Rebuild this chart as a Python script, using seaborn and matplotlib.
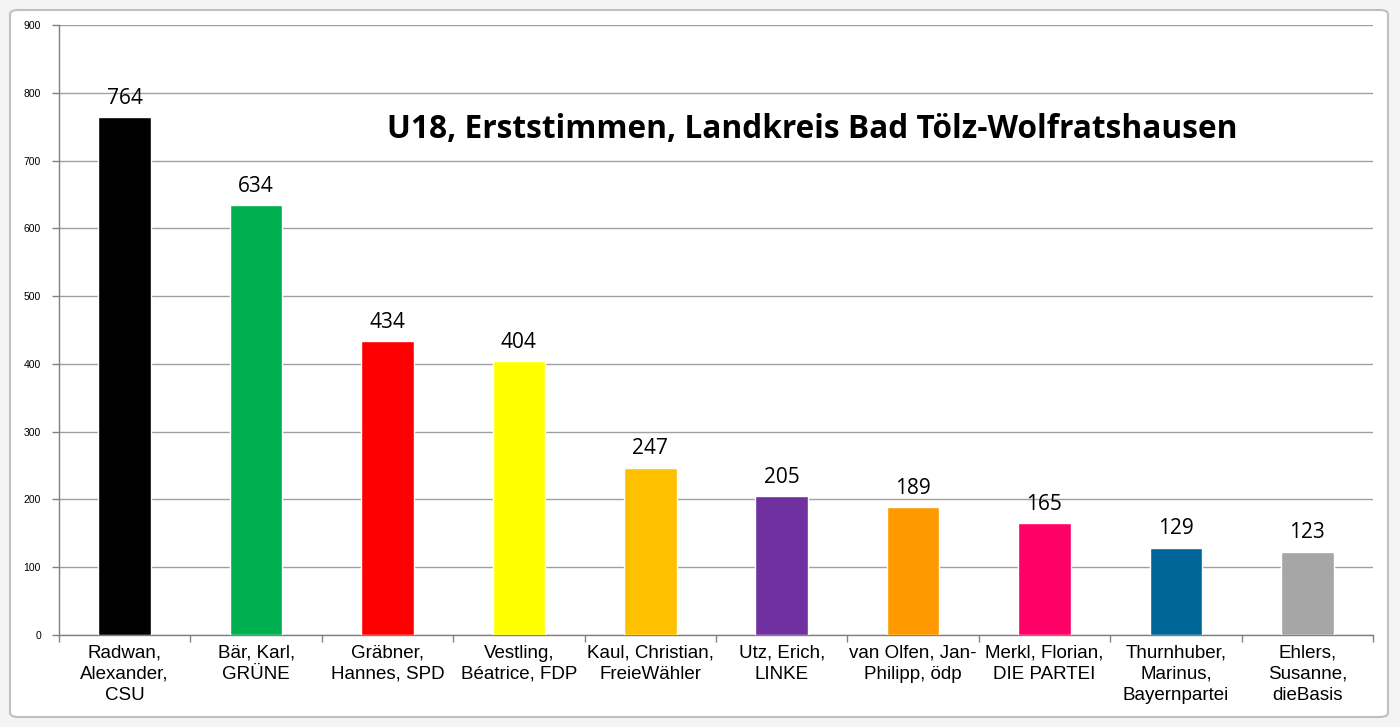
import matplotlib.pyplot as plt
import matplotlib.patches as mpatches
import numpy as np
import pandas as pd
import seaborn as sns

# Kandidaten, Stimmen, Farben
labels = ["Radwan,\nAlexander,\nCSU", "Bär, Karl,\nGRÜNE", "Gräbner,\nHannes, SPD",
          "Vestling,\nBéatrice, FDP", "Kaul, Christian,\nFreieWähler", "Utz, Erich,\nLINKE",
          "van Olfen, Jan-\nPhilipp, ödp", "Merkl, Florian,\nDIE PARTEI",
          "Thurnhuber,\nMarinus,\nBayernpartei", "Ehlers,\nSusanne,\ndieBasis"]
votes = [764, 634, 434, 404, 247, 205, 189, 165, 129, 123]
colors = ["#000000", "#00B050", "#FF0000", "#FFFF00", "#FFC000",
          "#7030A0", "#FF9900", "#FF0066", "#006699", "#A6A6A6"]
yticks = [0, 100, 200, 300, 400, 500, 600, 700, 800, 900]

df = pd.DataFrame({"name": labels, "votes": votes})

sns.set_style("white")
plt.rcParams["text.color"] = "black"
plt.rcParams["xtick.color"] = "#808080"
plt.rcParams["ytick.color"] = "#808080"
plt.rcParams["xtick.labelcolor"] = "black"
plt.rcParams["ytick.labelcolor"] = "black"

fig = plt.figure(figsize=(14, 7.27), dpi=100)
fig.patch.set_facecolor("#F4F4F4")

# chart frame
frame = mpatches.FancyBboxPatch((10 / 1400, 10 / 727), 1378 / 1400, 707 / 727,
                                boxstyle="round,pad=0,rounding_size=0.006",
                                transform=fig.transFigure, facecolor="white",
                                edgecolor="#BFBFBF", linewidth=1.5, zorder=-5)
fig.patches.append(frame)

ax = fig.add_axes([59 / 1400, 1 - 635 / 727, 1314 / 1400, 610 / 727])
ax.set_zorder(2)
ax.set_facecolor("none")

sns.barplot(data=df, x="name", y="votes", hue="name", palette=colors,
            width=0.4, legend=False, ax=ax, zorder=3, saturation=1)

ax.set_ylim(0, 900)
ax.set_xlim(-0.5, len(labels) - 0.5)
ax.set_yticks(yticks)
ax.set_yticklabels([str(t) for t in yticks], fontsize=7.5, family="Liberation Sans")
ax.yaxis.grid(True, color="#A0A0A0", linewidth=1, zorder=0)
ax.set_axisbelow(True)

ax.set_xticks(np.arange(len(labels)))
ax.set_xticklabels(labels, fontsize=13.5, family="Liberation Sans", linespacing=1.3)
ax.tick_params(axis="x", which="major", bottom=True, length=0, pad=7)
ax.set_xticks(np.arange(len(labels) + 1) - 0.5, minor=True)
ax.tick_params(axis="x", which="minor", bottom=True, length=5, width=1,
               color="#808080", direction="out")
ax.tick_params(axis="y", left=True, length=5, width=1, color="#808080",
               direction="out", pad=8)
ax.set_xlabel("")
ax.set_ylabel("")

for s in ["top", "right"]:
    ax.spines[s].set_visible(False)
for s in ["left", "bottom"]:
    ax.spines[s].set_color("#808080")
    ax.spines[s].set_linewidth(1)

for i, v in enumerate(votes):
    ax.text(i, v + 12, str(v), ha="center", va="bottom", fontsize=15,
            family="Open Sans", color="black")

ax.text(0.573, 0.828, "U18, Erststimmen, Landkreis Bad Tölz-Wolfratshausen",
        transform=ax.transAxes, ha="center", va="center", fontsize=22.8,
        fontweight="bold", family="Open Sans", color="black")

fig.savefig("out.png", dpi=100, facecolor=fig.get_facecolor())
